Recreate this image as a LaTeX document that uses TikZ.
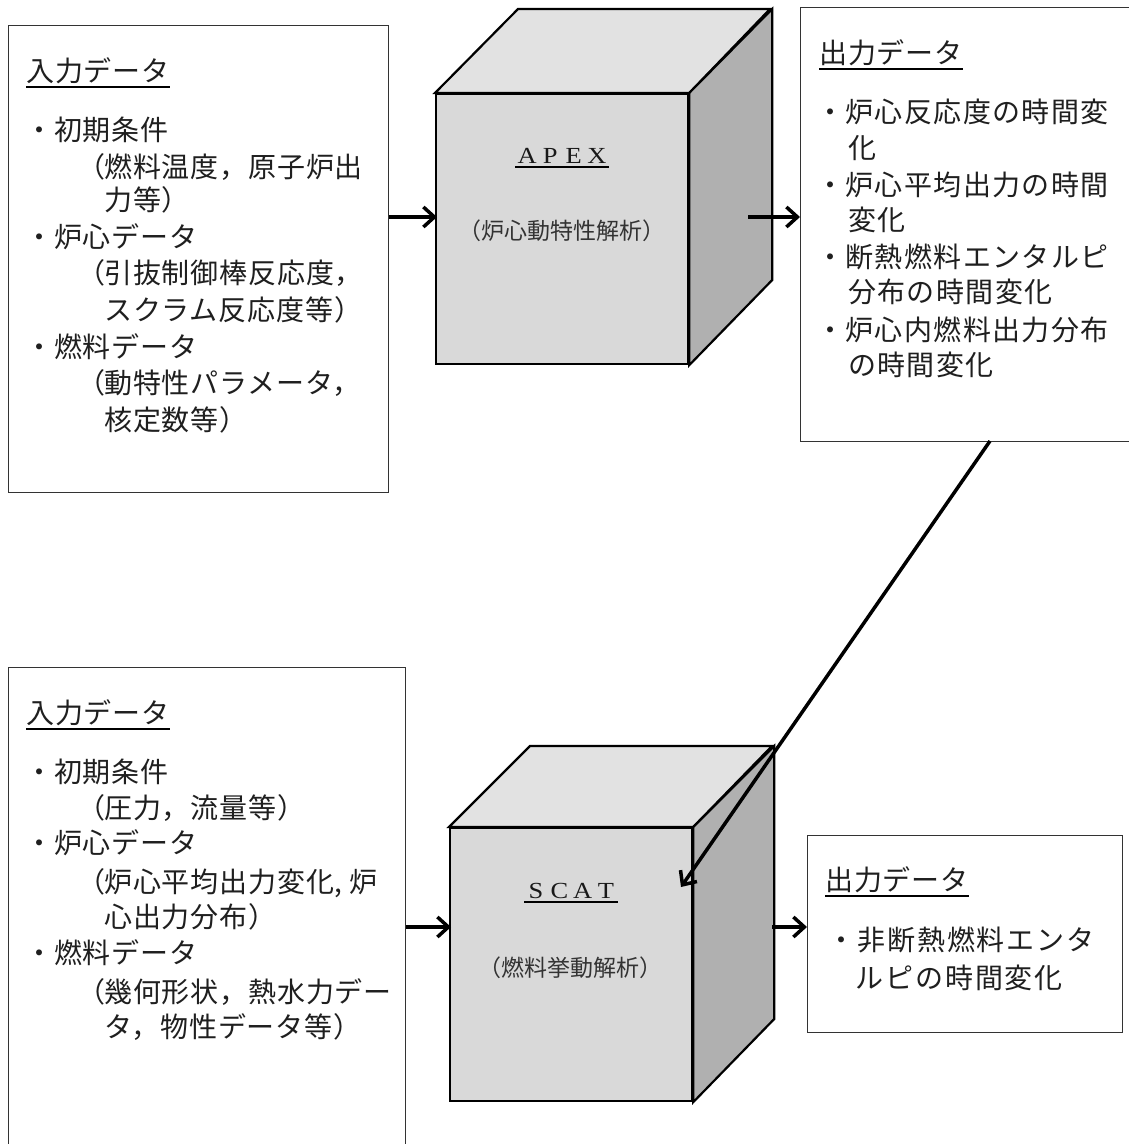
\documentclass[tikz,border=0pt]{standalone}
\usepackage{fontspec}
\usepackage{graphicx}
\usetikzlibrary{arrows.meta}
\newfontfamily\jpa[LetterSpace=3]{Noto Sans CJK JP}
\newfontfamily\jpb[LetterSpace=5]{Noto Sans CJK JP}
\newfontfamily\jpc[LetterSpace=7]{Noto Sans CJK JP}
\newfontfamily\jpn{Noto Sans CJK JP}
\newfontfamily\jpp[RawFeature=+palt]{Noto Sans CJK JP}
\newfontfamily\lserif{Liberation Serif}
\newcommand{\lp}{{\jpp （}}
\newcommand{\wl}[1]{\makebox[23.3pt]{\scalebox{1.15}[1]{#1}}}
\definecolor{cfront}{HTML}{D9D9D9}
\definecolor{ctop}{HTML}{E2E2E2}
\definecolor{cside}{HTML}{B0B0B0}
\begin{document}
\begin{tikzpicture}[x=1pt,y=-1pt,
  box/.style={draw=black!80, line width=1pt, inner sep=0pt, anchor=north west},
  cubeface/.style={draw=black, line width=2.2pt, line join=miter},
  arr/.style={line width=3.5pt, -{Straight Barb[length=11pt,width=20pt]}},
  txt/.style={anchor=base west, inner sep=0pt, text=black!88, font=\fontsize{28}{36}\selectfont\jpa},
  txtw/.style={txt, font=\fontsize{28}{36}\selectfont\jpb},
  txtx/.style={txt, font=\fontsize{28}{36}\selectfont\jpc},
  ul/.style={line width=1.8pt, black},
  ctitle/.style={anchor=base, inner sep=0pt, text=black!90, font=\fontsize{23}{26}\selectfont\lserif},
  csub/.style={anchor=base, inner sep=0pt, text=black!80, font=\fontsize{23}{28}\selectfont\jpn}
]
\useasboundingbox (0,0) rectangle (1129,1144);
\fill[white] (0,0) rectangle (1129,1144);

% ---------- boxes ----------
\node[box, minimum width=380pt, minimum height=467pt] (in1) at (8,25) {};
\node[box, minimum width=345pt, minimum height=434pt] (out1) at (800,7) {};
\node[box, minimum width=397pt, minimum height=500pt] (in2) at (8,667) {};
\node[box, minimum width=315pt, minimum height=197pt] (out2) at (807,835) {};

% ---------- APEX cube ----------
\node[cubeface, fill=cfront, minimum width=252pt, minimum height=270pt, inner sep=0pt, anchor=north west] (apex) at (435,93) {};
\draw[cubeface, fill=ctop] (apex.north west) -- ++(83,-84) -- ++(252,0) -- (apex.north east) -- cycle;
\draw[cubeface, fill=cside] (apex.north east) -- ++(83,-84) -- ++(0,271) -- (apex.south east) -- cycle;

% ---------- SCAT cube ----------
\node[cubeface, fill=cfront, minimum width=242pt, minimum height=273pt, inner sep=0pt, anchor=north west] (scat) at (449,827) {};
\draw[cubeface, fill=ctop] (scat.north west) -- ++(81,-81) -- ++(242,0) -- (scat.north east) -- cycle;
\draw[cubeface, fill=cside] (scat.north east) -- ++(81,-81) -- ++(0,273) -- (scat.south east) -- cycle;

% ---------- cube texts ----------
\node[ctitle] (apext) at (562,163) {\wl{A}\wl{P}\wl{E}\wl{X}};
\draw[line width=1.5pt] ([yshift=-4pt]apext.base west) -- ([yshift=-4pt]apext.base east);
\node[csub] (apexs) at (562,239) {（炉心動特性解析）};
\node[ctitle] (scatt) at (571,898) {\wl{S}\wl{C}\wl{A}\wl{T}};
\draw[line width=1.5pt] ([yshift=-4pt]scatt.base west) -- ([yshift=-4pt]scatt.base east);
\node[csub] (scats) at (570,976) {（燃料挙動解析）};

% ---------- top-left input ----------
\node[txt] (h1) at (26,81.5) {入力データ};
\draw[ul] ([yshift=-5.5pt]h1.base west) -- ([yshift=-5.5pt]h1.base east);
\node[txt] (t1) at (25,140) {・初期条件};
\node[txt] (t2) at (90,177) {\lp 燃料温度，原子炉出};
\node[txt] (t3) at (104,210) {力等）};
\node[txt] (t4) at (25,247) {・炉心データ};
\node[txt] (t5) at (90,283) {\lp 引抜制御棒反応度，};
\node[txt] (t6) at (104,320) {スクラム反応度等）};
\node[txt] (t7) at (25,357) {・燃料データ};
\node[txt] (t8) at (90,393) {\lp 動特性パラメータ，};
\node[txt] (t9) at (104,430) {核定数等）};

% ---------- top-right output ----------
\node[txt] (h2) at (819,63.5) {出力データ};
\draw[ul] ([yshift=-5.5pt]h2.base west) -- ([yshift=-5.5pt]h2.base east);
\node[txtw] (o1) at (816,122) {・炉心反応度の時間変};
\node[txtw] (o2) at (848,158) {化};
\node[txtw] (o3) at (816,195) {・炉心平均出力の時間};
\node[txtw] (o4) at (848,230) {変化};
\node[txtw] (o5) at (816,267) {・断熱燃料エンタルピ};
\node[txtw] (o6) at (848,302) {分布の時間変化};
\node[txtw] (o7) at (816,340) {・炉心内燃料出力分布};
\node[txtw] (o8) at (848,375) {の時間変化};

% ---------- bottom-left input ----------
\node[txt] (h3) at (26,723.5) {入力データ};
\draw[ul] ([yshift=-5.5pt]h3.base west) -- ([yshift=-5.5pt]h3.base east);
\node[txt] (s1) at (25,782) {・初期条件};
\node[txt] (s2) at (90,818) {\lp 圧力，流量等）};
\node[txt] (s3) at (25,853) {・炉心データ};
\node[txt] (s4) at (90,892) {\lp 炉心平均出力変化, 炉};
\node[txt] (s5) at (104,927) {心出力分布）};
\node[txt] (s6) at (25,963) {・燃料データ};
\node[txt] (s7) at (90,1002) {\lp 幾何形状，熱水力デー};
\node[txt] (s8) at (104,1037) {タ，物性データ等）};

% ---------- bottom-right output ----------
\node[txt] (h4) at (825,890.5) {出力データ};
\draw[ul] ([yshift=-5.5pt]h4.base west) -- ([yshift=-5.5pt]h4.base east);
\node[txtx] (r1) at (827,950) {・非断熱燃料エンタ};
\node[txtx] (r2) at (855,988) {ルピの時間変化};

% ---------- arrows ----------
\coordinate (a1e) at (437,217);
\draw[arr] (a1e -| in1.east) -- (a1e);
\coordinate (a2s) at (748,217);
\draw[arr] (a2s) -- (a2s -| out1.west);
\coordinate (a3s) at (990,441);
\coordinate (a3e) at (681,887);
\draw[arr] (a3s) -- (a3e);
\coordinate (a4e) at (451,927);
\draw[arr] (a4e -| in2.east) -- (a4e);
\coordinate (a5s) at (772,927);
\draw[arr] (a5s) -- (a5s -| out2.west);
\end{tikzpicture}
\end{document}
